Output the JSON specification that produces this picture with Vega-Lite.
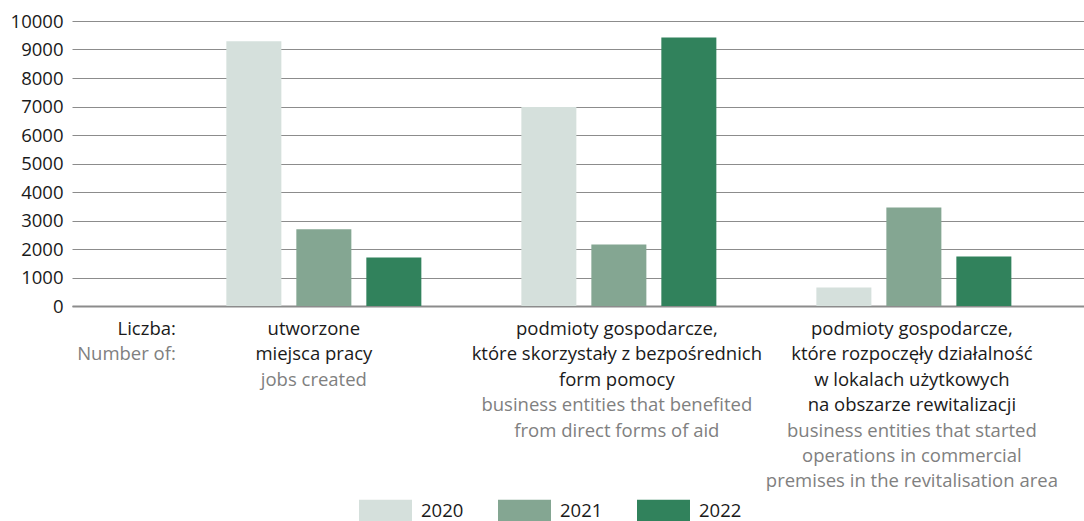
{
  "$schema": "https://vega.github.io/schema/vega-lite/v6.json",
  "width": 1012,
  "height": 285,
  "autosize": "none",
  "padding": {"left": 72, "top": 21, "right": 0, "bottom": 215},
  "config": {
    "view": {"stroke": null},
    "font": "Open Sans",
    "text": {"font": "Open Sans"},
    "axisX": {"labels": false, "ticks": false, "grid": false, "domain": true, "domainColor": "#8c8c8c", "domainWidth": 2}
  },
  "datasets": {
    "bars": [
      {"group": "A", "year": "2020", "value": 9290},
      {"group": "A", "year": "2021", "value": 2690},
      {"group": "A", "year": "2022", "value": 1700},
      {"group": "B", "year": "2020", "value": 6980},
      {"group": "B", "year": "2021", "value": 2160},
      {"group": "B", "year": "2022", "value": 9420},
      {"group": "C", "year": "2020", "value": 650},
      {"group": "C", "year": "2021", "value": 3460},
      {"group": "C", "year": "2022", "value": 1740}
    ],
    "labels": [
      {"group": "A", "pl": ["utworzone", "miejsca pracy"], "en": ["jobs created"]},
      {"group": "B", "pl": ["podmioty gospodarcze,", "które skorzystały  z bezpośrednich", "form pomocy"], "en": ["business  entities that benefited", "from direct forms of aid"]},
      {"group": "C", "pl": ["podmioty gospodarcze,", "które rozpoczęły działalność", "w lokalach użytkowych", "na obszarze rewitalizacji"], "en": ["business  entities that started", "operations in commercial", "premises in the revitalisation area"]}
    ],
    "lead": [
      {"group": "A", "pl": "Liczba:", "en": "Number of:"}
    ]
  },
  "layer": [
    {
      "data": {"name": "bars"},
      "mark": {"type": "bar"},
      "encoding": {
        "x": {"field": "group", "type": "nominal", "title": null,
              "scale": {"domain": ["A", "B", "C"], "paddingInner": 0.339, "paddingOuter": 0.3847, "align": 0.68}},
        "xOffset": {"field": "year", "type": "nominal", "scale": {"paddingInner": 0.214, "paddingOuter": 0}},
        "y": {"field": "value", "type": "quantitative",
              "scale": {"domain": [0, 10000], "nice": false},
              "axis": {"title": null, "grid": true, "gridColor": "#8c8c8c", "gridWidth": 1, "domain": false, "ticks": false,
                       "values": [0, 1000, 2000, 3000, 4000, 5000, 6000, 7000, 8000, 9000, 10000], "format": "d", "labelOverlap": false,
                       "labelFontSize": 18.5, "labelColor": "#1a1a1a", "labelPadding": 9, "labelFont": "Open Sans"}},
        "color": {"field": "year", "type": "nominal",
                  "scale": {"domain": ["2020", "2021", "2022"], "range": ["#d5e0dc", "#84a692", "#31825c"]},
                  "legend": {"orient": "none", "legendX": 287, "legendY": 463, "direction": "horizontal", "title": null,
                             "symbolType": "M-1,-0.415H1V0.415H-1Z", "symbolSize": 2809, "symbolStrokeWidth": 0, "symbolOpacity": 1,
                             "labelFontSize": 18.5, "labelOffset": 9, "columnPadding": 34, "labelColor": "#1a1a1a", "labelFont": "Open Sans"}}
      }
    },
    {
      "data": {"name": "labels"},
      "transform": [{"filter": "datum.group === 'A'"}],
      "mark": {"type": "text", "y": "height", "baseline": "top", "align": "center", "dx": -10, "dy": 14, "fontSize": 18.5, "lineHeight": 25.4, "color": "#1a1a1a"},
      "encoding": {"x": {"field": "group", "type": "nominal", "title": null}, "text": {"field": "pl"}}
    },
    {
      "data": {"name": "labels"},
      "transform": [{"filter": "datum.group === 'A'"}],
      "mark": {"type": "text", "y": "height", "baseline": "top", "align": "center", "dx": -10, "dy": 64.8, "fontSize": 18.5, "lineHeight": 25.4, "color": "#808080"},
      "encoding": {"x": {"field": "group", "type": "nominal", "title": null}, "text": {"field": "en"}}
    },
    {
      "data": {"name": "labels"},
      "transform": [{"filter": "datum.group === 'B'"}],
      "mark": {"type": "text", "y": "height", "baseline": "top", "align": "center", "dx": -2, "dy": 14, "fontSize": 18.5, "lineHeight": 25.4, "color": "#1a1a1a"},
      "encoding": {"x": {"field": "group", "type": "nominal", "title": null}, "text": {"field": "pl"}}
    },
    {
      "data": {"name": "labels"},
      "transform": [{"filter": "datum.group === 'B'"}],
      "mark": {"type": "text", "y": "height", "baseline": "top", "align": "center", "dx": -2, "dy": 90.2, "fontSize": 18.5, "lineHeight": 25.4, "color": "#808080"},
      "encoding": {"x": {"field": "group", "type": "nominal", "title": null}, "text": {"field": "en"}}
    },
    {
      "data": {"name": "labels"},
      "transform": [{"filter": "datum.group === 'C'"}],
      "mark": {"type": "text", "y": "height", "baseline": "top", "align": "center", "dx": -2, "dy": 14, "fontSize": 18.5, "lineHeight": 25.4, "color": "#1a1a1a"},
      "encoding": {"x": {"field": "group", "type": "nominal", "title": null}, "text": {"field": "pl"}}
    },
    {
      "data": {"name": "labels"},
      "transform": [{"filter": "datum.group === 'C'"}],
      "mark": {"type": "text", "y": "height", "baseline": "top", "align": "center", "dx": -2, "dy": 115.6, "fontSize": 18.5, "lineHeight": 25.4, "color": "#808080"},
      "encoding": {"x": {"field": "group", "type": "nominal", "title": null}, "text": {"field": "en"}}
    },
    {
      "data": {"name": "lead"},
      "mark": {"type": "text", "y": "height", "baseline": "top", "align": "right", "dx": -148, "dy": 14, "fontSize": 18.5, "color": "#1a1a1a"},
      "encoding": {"x": {"field": "group", "type": "nominal", "title": null}, "text": {"field": "pl"}}
    },
    {
      "data": {"name": "lead"},
      "mark": {"type": "text", "y": "height", "baseline": "top", "align": "right", "dx": -148, "dy": 39.4, "fontSize": 18.5, "color": "#808080"},
      "encoding": {"x": {"field": "group", "type": "nominal", "title": null}, "text": {"field": "en"}}
    }
  ]
}
